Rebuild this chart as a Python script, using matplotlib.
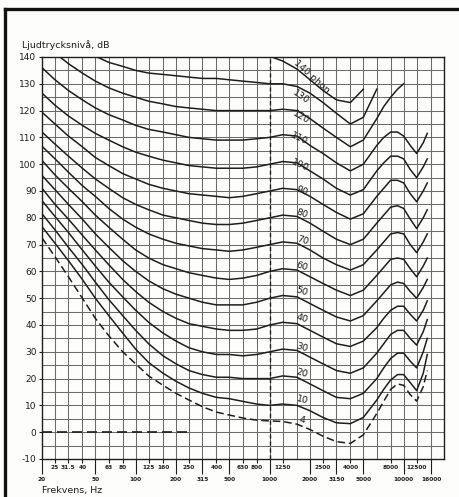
import numpy as np
import matplotlib
matplotlib.use("Agg")
import matplotlib.pyplot as plt
from matplotlib.lines import Line2D

plt.rcParams['font.family'] = ['Liberation Sans Narrow', 'DejaVu Sans']

nan = np.nan

# frequencies at which the curves were read off (third octaves, plus a few
# in-between points at the top end where the curves bend sharply)
freqs = [20, 25, 31.5, 40, 50, 63, 80, 100, 125, 160, 200, 250, 315, 400, 500,
         630, 800, 1000, 1250, 1600, 2000, 2500, 3150, 4000, 5000, 6300, 7100,
         8000, 9000, 10000, 11200, 12500, 14000, 15000]

# equal loudness contours, dB
phon_4 = [72.5, 65.5, 58, 50, 42.5, 36, 30, 25.5, 21, 17.5, 14.5, 12, 9.5, 7.5, 6.4,
          5.3, 4.5, 4.2, 4, 3, 1, -1.5, -3.5, -4.2, -1, 7, 11.5,
          16, 18, 17.5, 14, 11.6, 17, 23]
phon_10 = [76.7, 70.5, 64, 57, 50, 43.5, 37, 31, 26, 22, 19, 16.5, 14.5, 13, 12.5,
           11.5, 10.5, 10, 10.5, 10, 8, 5.5, 3.5, 3.2, 5.5, 12, 16,
           19.5, 21.5, 21.5, 18.5, 15.5, 22, 29]
phon_20 = [81.5, 75.5, 69, 62.5, 56, 49.5, 43.5, 38, 33, 28.5, 25.5, 23, 21.5, 20.5, 20.5,
           20, 20, 20, 21, 20.5, 18, 15.5, 13, 12.5, 14.5, 20, 24,
           27.5, 29.5, 29.5, 26.5, 24, 30, 35]
phon_30 = [86.4, 80.5, 74.5, 68, 62, 56, 50.5, 45.5, 41, 37, 34, 31.5, 30, 29, 29,
           28.5, 29, 30, 31, 30.5, 28, 25.5, 23, 22, 24, 29.5, 33,
           36.5, 38, 38, 35, 32.5, 37.5, 42]
phon_40 = [91, 85, 79.5, 73.5, 68, 62.5, 57, 52.5, 48.5, 45, 42.5, 40.5, 39.5, 38.5, 38,
           38, 38.5, 40, 41, 40.5, 38, 35.5, 33, 32, 34, 39, 42.5,
           45.5, 47, 47, 44, 41.5, 45.5, 49]
phon_50 = [95.8, 90.5, 85, 79.5, 74, 69, 64, 60, 56.5, 53.5, 51.5, 50, 48.5, 47.5, 47.5,
           47.5, 48.5, 50, 51, 50.5, 48, 45.5, 43, 41.5, 43.5, 49, 52,
           55, 56, 55.5, 52.5, 50, 54, 57]
phon_60 = [101.4, 96, 91, 86, 81, 76.5, 72, 68, 65, 62.5, 61, 59.5, 58.5, 57.5, 57,
           57.5, 58.5, 60, 61, 60.5, 58, 55.5, 53, 51, 53, 58.5, 61.5,
           64.5, 65, 64.5, 61, 58, 62, 65]
phon_70 = [106.7, 102, 97, 92, 88, 83.5, 79.5, 76.5, 74, 72, 70.5, 69.5, 68.5, 68, 67.5,
           68, 69, 70, 71, 70.5, 68, 65, 62.5, 60.5, 62.5, 68, 71,
           74, 74.5, 74, 70, 67, 71, 74]
phon_80 = [112, 107.5, 103, 98.5, 94.5, 91, 87.5, 85, 83, 81, 80, 79, 78, 77.5, 77.5,
           78, 79, 80, 81, 80.5, 78, 75, 72, 70, 72, 78, 81,
           84, 84.5, 83.5, 79.5, 76, 80, 83]
phon_90 = [119.4, 115, 110.5, 106.5, 102.5, 99.5, 96.5, 94.5, 92.5, 91, 90, 89, 88.5, 88, 87.5,
           88, 89, 90, 91, 90.5, 88, 85, 82, 79.5, 81.5, 88, 91,
           94, 94, 93, 89, 86, 90, 93]
phon_100 = [126.5, 122, 118, 114.5, 111.5, 109, 106.5, 104.5, 103, 101.5, 100.5, 99.5, 99, 98.5, 98.5,
            98.5, 99, 100, 101, 100.5, 97.5, 94.5, 91, 88.5, 90.5, 97.5, 100.5,
            103, 103, 102, 98, 95, 99, 102]
phon_110 = [136, 131.5, 127.5, 124, 121, 118.5, 116.5, 114.5, 113, 112, 111, 110, 109.5, 109, 109,
            109, 109.5, 110, 111, 110.5, 107, 104, 100.5, 97.5, 100, 107, 110,
            112, 112, 110.5, 107, 104, 108, 111.5]
phon_120 = [146, 141.5, 137.5, 134, 131, 128.5, 126.5, 125, 123.5, 122.5, 121.5, 121, 120.5, 120, 120,
            120, 120, 120, 120.5, 120, 117, 113.5, 110, 106.5, 109, 117, 121.5,
            125, 128, 130, nan, nan, nan, nan]
phon_130 = [nan, nan, nan, 143, 140.3, 138, 136.5, 135, 134, 133.5, 133, 132.5, 132, 132, 131.5,
            131, 130.5, 130, 130, 129, 126.5, 123, 119, 115, 117.5, 128, nan,
            nan, nan, nan, nan, nan, nan, nan]
phon_140 = [nan, nan, nan, nan, nan, nan, nan, nan, nan, nan, nan, nan, nan, nan, nan,
            nan, 141.5, 140.3, 138.5, 135.5, 131.5, 127.5, 124, 123, 128, nan, nan,
            nan, nan, nan, nan, nan, nan, nan]

curves = [phon_4, phon_10, phon_20, phon_30, phon_40, phon_50, phon_60, phon_70,
          phon_80, phon_90, phon_100, phon_110, phon_120, phon_130, phon_140]
curve_labels = ["4", "10", "20", "30", "40", "50", "60", "70", "80", "90",
                "100", "110", "120", "130", "140 phon"]

# axis
third_octaves = [25, 31.5, 40, 50, 63, 80, 100, 125, 160, 200, 250, 315, 400, 500, 630,
                 800, 1000, 1250, 1600, 2000, 2500, 3150, 4000, 5000, 6300, 8000,
                 10000, 12500, 16000]
low_ticks = [20, 50, 100, 200, 315, 500, 1000, 2000, 3150, 5000, 10000, 16000]
high_ticks = [25, 31.5, 40, 63, 80, 125, 160, 250, 400, 630, 800, 1250, 2500, 4000, 8000, 12500]
y_ticks = list(range(-10, 141, 10))

# label placement (freq, dB, rotation)
label_pos = [(1750, 4.5, -12), (1750, 12, -14), (1750, 22, -16), (1750, 31.5, -18),
             (1750, 42.5, -18), (1750, 52.5, -18), (1750, 62, -18), (1750, 71.5, -18),
             (1750, 81.5, -20), (1750, 90, -22), (1700, 99.5, -24), (1650, 109.5, -26),
             (1700, 117.5, -30), (1700, 125, -34), (2050, 132.5, -42)]

ink = "#1e1e1e"
gridc = "#6b6b6b"

fig = plt.figure(figsize=(4.59, 4.97), dpi=100, facecolor="#fdfdfb")
ax = fig.add_axes([42 / 459, 1 - 459 / 497, 402 / 459, 402 / 497])
ax.set_facecolor("#fdfdfb")
ax.set_xscale("log")
ax.set_xlim(20, 20000)
ax.set_ylim(-10, 140)

# grid
ax.vlines(third_octaves, -10, 140, colors=gridc, lw=0.75, zorder=1)
ax.hlines(np.arange(-5, 140, 5), 20, 20000, colors=gridc, lw=0.75, zorder=1)
ax.axvline(1000, color=ink, lw=1.0, ls=(0, (3, 2)), zorder=1.5)
ax.hlines(0, 20, 250, color=ink, lw=1.2, ls=(0, (6, 3)), zorder=1.5)

for i, (vals, lab) in enumerate(zip(curves, curve_labels)):
    v = np.array(vals, dtype=float)
    if i == 0:
        ax.plot(freqs, v, color=ink, lw=1.1, ls=(0, (5, 2.5)), zorder=3)
    else:
        ax.plot(freqs, v, color=ink, lw=1.1, zorder=3)
    fx, fy, rot = label_pos[i]
    ax.text(fx, fy, lab, fontsize=6.8, color=ink, rotation=rot, ha="center",
            va="center", zorder=4)

for s in ax.spines.values():
    s.set_color(ink)
    s.set_linewidth(1.0)

ax.set_xticks(low_ticks)
ax.set_xticklabels([str(t) for t in low_ticks], fontweight="bold")
ax.set_xticks(high_ticks, minor=True)
ax.set_xticklabels([str(t) for t in high_ticks], minor=True, fontweight="bold")
ax.tick_params(axis="x", which="major", length=11, width=0.8, color=ink, pad=2,
               labelsize=4.2, labelcolor=ink)
ax.tick_params(axis="x", which="minor", length=3, width=0.8, color=ink, pad=1,
               labelsize=4.2, labelcolor=ink)
ax.set_yticks(y_ticks)
ax.set_yticklabels([str(t) for t in y_ticks])
ax.tick_params(axis="y", length=2, width=0.8, color=ink, pad=2, labelsize=6.5,
               labelcolor=ink)

fig.text(22 / 459, 1 - 45 / 497, "Ljudtrycksnivå, dB", fontsize=6.8, color=ink,
         ha="left", va="center")
fig.text(42 / 459, 1 - 490 / 497, "Frekvens, Hz", fontsize=6.8, color=ink,
         ha="left", va="center")

# scanned page frame
fig.add_artist(Line2D([5 / 459, 1.0], [1 - 9 / 497, 1 - 9 / 497], color="#111111", lw=2.4))
fig.add_artist(Line2D([5 / 459, 5 / 459], [0, 1 - 9 / 497], color="#111111", lw=2.4))

fig.savefig("out.png", dpi=100, facecolor=fig.get_facecolor())
